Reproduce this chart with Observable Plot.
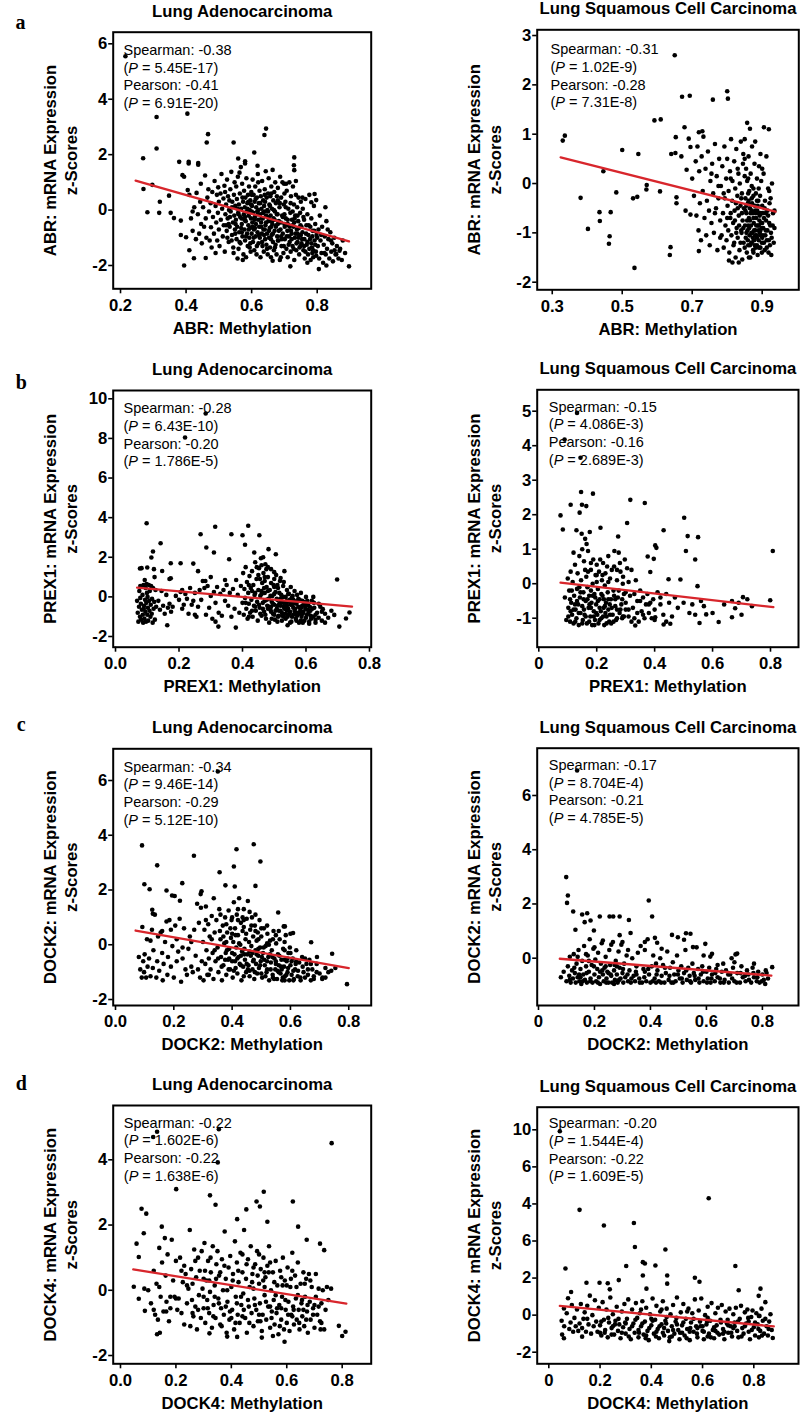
<!DOCTYPE html>
<html>
<head>
<meta charset="utf-8">
<script src="https://cdn.jsdelivr.net/npm/d3@7"></script>
<script src="https://cdn.jsdelivr.net/npm/@observablehq/plot@0.6"></script>
<style>
  html, body { margin: 0; padding: 0; background: #fff; }
  #fig { position: relative; width: 800px; height: 1415px; background: #fff; overflow: hidden; }
  #fig svg { position: absolute; }
</style>
</head>
<body>
<div id="fig"></div>
<script>
// ---------------- DATA ----------------
const titles = ["Lung Adenocarcinoma", "Lung Squamous Cell Carcinoma"];
const panelLetters = ["a", "b", "c", "d"];
const genes = ["ABR", "PREX1", "DOCK2", "DOCK4"];

// Panel a (ABR)
const luadABR = [[0.215,5.55],[0.31,3.36],[0.404,3.48],[0.31,2.22],[0.269,1.87],[0.27,0.76],[0.297,0.91],[0.282,-0.08],[0.318,-0.1],[0.32,0.3],[0.348,0.52],[0.353,-0.1],[0.363,-0.29],[0.384,-0.38],[0.384,-0.9],[0.40,-0.98],[0.394,-2.0],[0.424,-1.74],[0.46,-1.73],[0.467,2.74],[0.463,2.44],[0.545,2.44],[0.644,2.94],[0.639,2.71],[0.608,2.08],[0.73,1.9],[0.729,1.62],[0.73,1.44],[0.559,1.86],[0.379,1.74],[0.408,1.74],[0.408,1.68],[0.437,1.7],[0.437,1.64],[0.58,1.68],[0.58,1.76],[0.618,1.6],[0.389,1.26],[0.394,1.2],[0.897,-2.03],[0.805,-2.13],[0.828,-2.0],[0.718,-2.03],[0.664,-1.83],[0.689,-1.7],[0.792,0.58],[0.797,0.36],[0.782,0.28],[0.868,-1.47],[0.858,-1.59],
[0.405,0.72],[0.41,0.55],[0.415,-0.3],[0.42,-0.75],[0.425,0.1],[0.43,-1.05],[0.432,0.62],[0.436,-0.15],[0.44,-0.85],[0.443,0.3],[0.446,-0.5],[0.448,-1.2],[0.41,-1.45],[0.42,-0.05],[0.445,0.95],
[0.452,0.1],[0.455,-0.6],[0.458,1.25],[0.46,-0.3],[0.462,-1.0],[0.465,0.45],[0.468,0.75],[0.47,-0.05],[0.472,-1.1],[0.475,0.25],[0.476,-0.62],[0.478,-1.35],[0.48,0.65],[0.482,-0.25],[0.485,-0.85],[0.487,1.05],[0.49,0.15],[0.49,-1.55],[0.492,-0.45],[0.494,0.55],[0.495,-1.1],[0.497,-0.1],[0.498,0.82],[0.5,-0.7],[0.5,0.3],
[0.502,-1.3],[0.505,0.6],[0.506,-0.35],[0.508,1.3],[0.51,0.05],[0.512,-0.95],[0.514,0.42],[0.515,-0.55],[0.517,0.88],[0.518,-1.5],[0.52,-0.15],[0.522,0.2],[0.524,-0.75],[0.525,1.1],[0.527,-0.3],[0.528,0.5],[0.53,-1.15],[0.531,0.0],[0.533,-0.6],[0.535,0.75],[0.536,-0.05],[0.538,1.38],[0.54,-0.9],[0.541,0.3],[0.543,-0.45],[0.544,-1.35],[0.546,0.55],[0.547,-0.2],[0.548,1.0],[0.549,-0.7],[0.55,0.15],[0.545,-1.55],[0.532,0.35],[0.526,-1.0],[0.519,0.65],
[0.552,-0.35],[0.553,0.85],[0.554,-1.05],[0.555,0.4],[0.556,-0.6],[0.558,1.2],[0.559,-0.1],[0.56,-1.4],[0.561,0.2],[0.562,-0.8],[0.564,0.6],[0.565,-0.25],[0.566,-1.2],[0.567,1.55],[0.568,0.05],[0.57,-0.5],[0.571,0.95],[0.572,-0.95],[0.574,0.3],[0.575,-1.6],[0.576,-0.15],[0.577,0.7],[0.578,-0.7],[0.579,0.1],[0.58,-1.1],[0.581,0.45],[0.582,-0.4],[0.584,1.15],[0.585,-0.05],[0.586,-0.85],[0.587,0.25],[0.588,-1.3],[0.589,0.55],[0.59,-0.55],[0.591,-0.2],[0.592,0.85],[0.593,-1.0],[0.594,0.0],[0.595,-0.65],[0.596,0.35],[0.597,-1.5],[0.598,-0.3],[0.599,0.65],[0.6,-0.85],[0.557,-1.75],[0.573,-1.8],[0.563,1.35],[0.583,-1.7],[0.569,-0.3],[0.596,-1.2],
[0.601,0.15],[0.602,-0.45],[0.603,1.1],[0.604,-1.15],[0.605,-0.1],[0.606,0.55],[0.607,-0.7],[0.608,-1.45],[0.609,0.3],[0.61,-0.25],[0.611,0.85],[0.612,-0.95],[0.613,-0.5],[0.614,0.1],[0.615,-1.6],[0.616,0.45],[0.617,-0.05],[0.618,-0.8],[0.619,1.3],[0.62,-0.35],[0.621,-1.2],[0.622,0.25],[0.623,-0.6],[0.624,0.7],[0.625,-1.0],[0.626,-0.15],[0.627,-1.7],[0.628,0.5],[0.629,-0.45],[0.63,0.05],[0.631,-0.85],[0.632,1.05],[0.633,-1.3],[0.634,-0.3],[0.635,0.35],[0.636,-0.7],[0.637,-1.5],[0.638,0.15],[0.639,-0.05],[0.64,0.75],[0.641,-1.05],[0.642,-0.55],[0.643,1.4],[0.644,-0.2],[0.645,-1.25],[0.646,0.45],[0.647,-0.85],[0.648,0.0],[0.649,-1.6],[0.65,0.6],
[0.651,-0.4],[0.652,1.15],[0.653,-1.0],[0.654,0.2],[0.655,-0.65],[0.656,-1.35],[0.657,0.5],[0.658,-0.2],[0.659,-1.7],[0.66,0.85],[0.661,-0.9],[0.662,0.05],[0.663,-0.5],[0.664,1.45],[0.665,-1.15],[0.666,0.35],[0.667,-0.3],[0.668,-1.45],[0.669,0.65],[0.67,-0.75],[0.671,-0.05],[0.672,1.0],[0.673,-1.25],[0.674,0.25],[0.675,-0.55],[0.676,-1.6],[0.677,0.5],[0.678,-0.95],[0.679,-0.15],[0.68,0.8],[0.682,-1.1],[0.683,-0.4],[0.685,0.1],[0.686,-1.8],[0.688,-0.7],[0.69,0.45],[0.691,-1.3],[0.693,-0.2],[0.694,1.0],[0.695,-0.85],[0.697,-1.55],[0.698,0.2],[0.7,-0.5],[0.699,0.95],[0.687,1.2],
[0.701,-1.05],[0.703,0.3],[0.704,-0.3],[0.706,-1.4],[0.707,0.7],[0.709,-0.75],[0.71,-1.7],[0.712,0.05],[0.713,-0.55],[0.715,1.0],[0.716,-1.15],[0.718,-0.1],[0.719,-1.5],[0.72,0.5],[0.722,-0.85],[0.723,-0.35],[0.725,-1.3],[0.726,0.85],[0.728,-0.6],[0.729,0.2],[0.73,-1.8],[0.732,-1.0],[0.733,-0.2],[0.735,0.55],[0.736,-1.45],[0.738,-0.7],[0.739,0.1],[0.74,-1.15],[0.742,-0.4],[0.743,0.45],[0.745,-1.6],[0.746,-0.9],[0.748,-0.1],[0.749,-1.3],[0.75,0.3],[0.735,1.05],[0.725,-0.05],[0.705,0.95],[0.744,-0.65],[0.714,-0.95],
[0.752,-0.6],[0.754,-1.05],[0.756,0.05],[0.758,-1.45],[0.76,-0.35],[0.762,-1.75],[0.764,0.4],[0.766,-0.85],[0.768,-1.25],[0.77,-0.15],[0.772,-1.6],[0.774,-0.55],[0.776,0.55],[0.778,-1.05],[0.78,-1.8],[0.782,-0.3],[0.784,-1.35],[0.786,-0.75],[0.788,-1.7],[0.79,0.15],[0.792,-1.1],[0.794,-0.5],[0.796,-1.5],[0.798,-0.9],[0.77,-1.9],[0.76,-1.3],[0.785,-1.55],[0.755,0.45],
[0.802,-1.3],[0.804,-0.7],[0.806,-1.75],[0.808,-0.2],[0.81,-1.1],[0.813,-1.55],[0.815,-0.6],[0.818,-1.9],[0.82,-1.25],[0.823,-0.95],[0.826,-1.6],[0.828,-0.4],[0.83,-1.4],[0.834,-1.05],[0.837,-1.75],[0.84,-0.8],[0.843,-1.5],[0.846,-1.2],[0.848,-1.85],[0.825,0.1],
[0.852,-1.0],[0.856,-1.6],[0.86,-1.3],[0.865,-1.75],[0.87,-1.4],[0.878,-1.1],[0.885,-1.55],[0.875,-1.8]];
const luadABRcore = [[0.522,-0.55],[0.534,-0.25],[0.539,-1.1],[0.551,-0.5],[0.557,0.05],[0.563,-1.15],[0.568,-0.65],[0.572,0.45],[0.578,-0.35],[0.583,-0.95],[0.587,0.05],[0.591,-0.7],[0.594,-1.35],[0.598,0.2],[0.603,-0.6],[0.606,-1.0],[0.609,-0.35],[0.612,0.4],[0.616,-1.3],[0.619,-0.15],[0.622,-0.9],[0.626,0.25],[0.629,-0.6],[0.632,-1.15],[0.635,-0.1],[0.638,-0.9],[0.641,0.3],[0.644,-0.45],[0.647,-1.4],[0.65,-0.25],[0.653,-0.75],[0.656,0.15],[0.659,-1.05],[0.662,-0.4],[0.665,-0.85],[0.668,0.0],[0.671,-1.35],[0.674,-0.6],[0.677,-0.15],[0.68,-1.1],[0.683,-0.75],[0.686,0.25],[0.689,-0.45],[0.692,-1.05],[0.695,-0.25],[0.698,-1.3],[0.701,-0.6],[0.704,0.1],[0.707,-0.95],[0.71,-0.35],[0.713,-1.25],[0.716,-0.6],[0.719,0.25],[0.722,-1.05],[0.725,-0.55],[0.728,-1.4],[0.731,-0.3],[0.734,-0.85],[0.737,-1.2],[0.74,-0.2],[0.743,-1.0],[0.746,-1.35],[0.749,-0.55],[0.752,-1.2],[0.755,-0.8],[0.758,-0.25],[0.761,-1.05],[0.764,-1.5],[0.767,-0.55],[0.77,-1.15],[0.773,-0.9],[0.776,-1.4],[0.779,-0.6],[0.782,-1.2],[0.785,-0.95],[0.788,-1.45],[0.791,-0.75],[0.794,-1.25],[0.797,-1.65],[0.8,-1.0],[0.812,-0.9],[0.822,-1.55],[0.832,-0.7],[0.842,-1.1],[0.853,-1.45],[0.59,0.3],[0.6,-0.05],[0.61,-0.65],[0.62,0.0],[0.63,-0.3],[0.64,-0.7],[0.65,-0.05],[0.66,-0.6],[0.67,-0.35],[0.68,-0.5],[0.69,-0.95],[0.7,-0.15],[0.71,-0.5],[0.72,-0.75],[0.73,-0.45],[0.74,-0.85],[0.75,-0.9],[0.57,-0.8],[0.58,-0.25],[0.56,-0.15],[0.55,-0.85],[0.54,0.1],[0.53,-0.5],[0.64,0.55],[0.66,0.6],[0.62,1.0],[0.68,0.35],[0.7,0.6],[0.6,0.55]];
const luscABR = [[0.33,0.87],[0.336,0.97],[0.381,-0.29],[0.402,-0.92],[0.435,-0.58],[0.436,-0.76],[0.446,0.25],[0.467,-0.58],[0.464,-1.07],[0.462,-1.22],[0.483,-0.18],[0.5,0.68],[0.546,0.6],[0.531,-0.3],[0.543,-0.27],[0.535,-1.71],[0.57,-0.03],[0.569,-0.12],[0.608,-0.16],[0.592,1.28],[0.61,1.3],[0.65,2.6],[0.638,-1.29],[0.636,-1.45],[0.64,0.6],[0.652,0.62],[0.653,0.94],[0.655,-0.28],[0.655,-0.4],[0.671,1.76],[0.693,1.78],[0.678,1.14],[0.684,0.28],[0.669,0.55],[0.69,0.91],[0.695,0.74],[0.681,-0.55],[0.695,-0.63],[0.719,1.04],[0.729,1.06],[0.759,1.7],[0.8,1.87],[0.802,1.72],[0.719,-1.37],[0.805,-1.56],[0.833,-1.6],[0.843,-1.54],[0.862,-1.5],
[0.70,0.1],[0.705,-0.25],[0.71,0.45],[0.712,-0.65],[0.715,0.75],[0.718,-0.95],[0.72,0.25],[0.722,-0.4],[0.725,-1.15],[0.727,0.55],[0.73,-0.15],[0.732,0.95],[0.735,-0.7],[0.738,0.3],[0.74,-1.05],[0.742,-0.35],[0.745,0.65],[0.748,-0.55],[0.75,-1.25],[0.752,0.05],[0.755,-0.8],[0.757,0.4],[0.76,-0.2],[0.762,-1.0],[0.765,0.8],[0.768,-0.5],[0.77,0.15],[0.772,-1.35],[0.775,-0.3],[0.777,0.5],[0.78,-0.75],
[0.782,-0.05],[0.784,-1.05],[0.786,0.35],[0.788,-0.6],[0.79,-1.3],[0.792,0.75],[0.793,-0.3],[0.795,-0.85],[0.797,0.1],[0.798,-1.15],[0.8,0.5],[0.801,-0.45],[0.803,-0.95],[0.804,-0.15],[0.806,-1.4],[0.808,0.25],[0.809,-0.7],[0.811,0.9],[0.812,-1.05],[0.814,-0.35],[0.815,0.05],[0.817,-0.8],[0.818,-1.25],[0.82,0.45],[0.821,-0.55],[0.823,-0.1],[0.824,-1.5],[0.826,0.7],[0.827,-0.9],[0.829,-0.25],[0.83,-1.1],[0.832,0.2],[0.833,-0.65],[0.835,-1.35],[0.836,0.0],[0.838,-0.45],[0.839,0.85],[0.841,-1.0],[0.842,-0.2],[0.844,-0.75],[0.845,0.4],[0.847,-1.2],[0.848,-0.5],[0.85,0.15],[0.79,-0.2],[0.81,-0.6],[0.825,-0.4],[0.84,-0.95],[0.815,-1.6],[0.846,0.6],
[0.851,-0.85],[0.852,-0.3],[0.853,-1.1],[0.854,0.3],[0.855,-0.6],[0.856,-1.4],[0.857,0.05],[0.858,-0.95],[0.859,-0.4],[0.86,-1.25],[0.861,0.55],[0.862,-0.7],[0.863,-0.15],[0.864,-1.05],[0.865,-0.5],[0.866,-1.5],[0.867,0.2],[0.868,-0.85],[0.869,-1.2],[0.87,-0.3],[0.871,0.75],[0.872,-1.0],[0.873,-0.6],[0.874,-1.35],[0.875,-0.1],[0.876,-0.8],[0.877,-1.15],[0.878,0.4],[0.879,-0.45],[0.88,-0.95],[0.881,-1.3],[0.882,-0.2],[0.883,-0.7],[0.884,-1.05],[0.885,0.1],[0.886,-0.55],[0.887,-1.45],[0.888,-0.85],[0.889,-0.35],[0.89,-1.15],[0.891,0.35],[0.892,-0.75],[0.893,-1.0],[0.894,-0.25],[0.895,-1.3],[0.896,-0.6],[0.897,0.05],[0.898,-0.9],[0.899,-1.2],[0.9,-0.45],[0.902,-1.05],[0.904,0.2],[0.905,-0.7],[0.907,-1.35],[0.908,-0.35],[0.91,-0.95],[0.912,0.55],[0.913,-1.15],[0.915,-0.55],[0.917,-0.1],[0.918,-1.4],[0.92,-0.8],[0.922,-1.25],[0.924,-0.3],[0.926,-1.45],[0.928,0.0],[0.93,-0.85],[0.933,-1.2],[0.935,-0.55],[0.925,-1.0],[0.87,-0.05],[0.88,-0.55],[0.86,-0.2],[0.89,-0.6],[0.9,-0.8],[0.875,-1.4],[0.885,-1.25],[0.895,-0.95],[0.865,-0.75],[0.855,-0.45],[0.905,1.14],[0.919,1.1],[0.857,1.23],[0.865,1.11],[0.88,0.85],[0.895,0.6],[0.85,0.9]];
const luscABRcore = [[0.822,-0.75],[0.826,-1.0],[0.83,-0.5],[0.834,-0.85],[0.838,-1.2],[0.842,-0.6],[0.846,-0.9],[0.85,-1.3],[0.852,-0.55],[0.855,-1.0],[0.857,-0.75],[0.859,-1.15],[0.861,-0.35],[0.863,-0.9],[0.865,-1.25],[0.867,-0.6],[0.869,-1.0],[0.871,-0.4],[0.873,-1.1],[0.875,-0.7],[0.877,-0.95],[0.879,-1.25],[0.881,-0.6],[0.883,-0.85],[0.885,-1.1],[0.887,-0.45],[0.889,-0.95],[0.891,-1.3],[0.893,-0.65],[0.895,-1.05],[0.897,-0.8],[0.899,-1.4],[0.901,-0.6],[0.903,-0.9],[0.905,-1.2],[0.907,-0.5],[0.909,-1.05],[0.911,-0.75],[0.913,-1.3],[0.915,-0.95],[0.917,-0.65],[0.919,-1.15],[0.921,-0.4],[0.923,-0.85],[0.927,-1.1],[0.931,-0.6],[0.86,-0.85],[0.87,-1.2],[0.88,-1.05],[0.89,-0.85],[0.9,-1.1],[0.91,-0.6],[0.87,-0.55],[0.885,-0.35],[0.875,-0.25],[0.86,0.1],[0.89,-0.1],[0.84,-0.3],[0.82,-1.2],[0.8,-0.7],[0.78,-1.1],[0.775,-0.05],[0.765,-0.6],[0.755,0.2],[0.81,0.1],[0.83,0.3],[0.85,0.5],[0.9,0.3],[0.92,-0.15],[0.935,-0.9]];

// Panel b (PREX1)
const luadPREX1 = [[0.284,9.26],[0.219,8.05],[0.098,3.72],[0.142,2.71],[0.118,2.29],[0.113,1.99],[0.174,1.7],[0.205,1.7],[0.245,1.68],[0.268,3.16],[0.314,3.54],[0.286,2.49],[0.31,2.24],[0.365,3.16],[0.358,1.9],[0.4,3.11],[0.418,3.59],[0.408,2.63],[0.453,3.11],[0.437,2.24],[0.482,2.41],[0.505,2.15],[0.698,0.88],[0.163,-1.43],[0.324,-1.5],[0.379,-1.55],[0.705,-1.5],[0.542,-1.43],[0.147,1.31],[0.174,0.94],[0.077,1.43],[0.1,1.48],[0.121,1.4],[0.737,-0.79],[0.726,-1.09],[0.689,-0.91],[0.623,0.0],[0.653,-0.62],
[0.068,-0.2],[0.07,-0.8],[0.072,-1.25],[0.074,-0.5],[0.075,0.3],[0.077,-1.0],[0.078,0.55],[0.08,-0.35],[0.081,-1.15],[0.082,1.45],[0.083,-0.65],[0.085,0.1],[0.086,-0.9],[0.087,-1.3],[0.088,0.6],[0.09,-0.45],[0.091,-1.1],[0.092,0.85],[0.093,-0.15],[0.094,-0.75],[0.095,0.45],[0.096,-1.25],[0.097,-0.3],[0.098,0.65],[0.1,-0.9],[0.101,0.0],[0.102,-0.55],[0.103,-1.2],[0.105,0.6],[0.106,-0.2],[0.107,-0.7],[0.108,0.3],[0.11,-1.0],[0.111,-0.4],[0.112,0.55],[0.114,-0.85],[0.115,-0.1],[0.117,-1.3],[0.118,0.45],[0.12,-0.6],[0.122,-0.25],[0.124,-1.15],[0.126,0.35],[0.128,-0.5],[0.123,1.0],[0.078,-0.05],[0.089,-0.6],[0.099,0.2],
[0.135,-0.2],[0.14,-0.65],[0.145,0.3],[0.15,-0.45],[0.155,-0.85],[0.16,0.1],[0.165,-0.55],[0.17,-0.35],[0.175,-0.75],[0.18,-0.5],[0.19,0.05],[0.2,-0.15],[0.205,0.25],[0.21,-0.6],[0.215,-0.4],[0.22,0.15],[0.225,-0.1],[0.23,-0.85],[0.235,0.45],[0.24,-0.4],[0.245,-0.2],[0.25,0.2],[0.255,-1.0],[0.26,-0.5],[0.265,0.35],[0.27,-0.15],[0.275,0.8],[0.28,0.45],[0.285,-0.9],[0.29,0.55],[0.295,-0.55],[0.3,0.05],[0.305,-1.1],[0.31,0.25],[0.315,-0.3],[0.32,0.5],[0.325,-0.8],[0.33,0.15],[0.335,-0.95],[0.34,0.35],[0.345,-0.2],[0.35,0.6],[0.355,-0.45],[0.36,0.2],[0.365,-1.0],[0.37,0.4],[0.375,-0.6],[0.38,0.85],[0.385,0.1],[0.39,-0.8],[0.395,0.55],[0.283,0.8],[0.3,1.0],[0.26,1.3],[0.315,-1.25],[0.345,0.85],[0.21,0.35],[0.17,0.9],[0.25,-0.9],
[0.40,-0.3],[0.402,1.2],[0.404,-0.9],[0.406,0.4],[0.408,-0.05],[0.41,1.5],[0.412,-0.6],[0.414,0.75],[0.416,-1.1],[0.418,0.2],[0.42,-0.35],[0.422,1.05],[0.424,-0.8],[0.426,0.45],[0.428,-0.15],[0.43,1.3],[0.432,-1.0],[0.434,0.6],[0.436,-0.45],[0.438,0.1],[0.44,1.75],[0.442,-0.7],[0.444,0.9],[0.446,-0.25],[0.448,-1.2],[0.45,0.35],[0.452,1.45],[0.454,-0.55],[0.456,0.05],[0.458,1.95],[0.46,-0.95],[0.462,0.7],[0.464,-0.3],[0.466,1.2],[0.468,-0.75],[0.47,0.2],[0.472,1.65],[0.474,-1.1],[0.476,0.5],[0.478,-0.45],[0.48,1.0],[0.482,-0.1],[0.484,-1.3],[0.486,0.35],[0.488,-0.65],[0.49,1.4],[0.492,-0.25],[0.494,0.05],[0.496,-0.85],[0.498,0.6],[0.5,-0.4],[0.502,-1.15],[0.504,0.25],[0.506,1.1],[0.508,-0.6],[0.51,-0.15],[0.512,0.45],[0.514,-0.95],[0.516,-0.35],[0.518,0.8],[0.52,-0.7],[0.522,0.1],[0.524,-1.2],[0.526,-0.25],[0.528,0.55],[0.53,-0.5],[0.532,1.3],[0.534,-0.85],[0.536,0.0],[0.538,-0.35],[0.54,0.35],[0.542,-1.0],[0.544,-0.6],[0.546,0.15],[0.548,-0.15],[0.55,-0.75],[0.552,0.5],[0.554,-1.25],[0.556,-0.4],[0.558,0.05],[0.56,-0.9],[0.562,-0.2],[0.564,0.3],[0.566,-0.6],[0.568,-1.1],[0.57,-0.35],[0.572,0.1],[0.574,-0.8],[0.576,-0.5],[0.578,-1.3],[0.58,-0.15],[0.582,-0.7],[0.584,0.2],[0.586,-1.0],[0.588,-0.45],[0.59,-0.85],[0.592,-0.25],[0.595,-1.2],[0.598,-0.6],[0.6,0.0],[0.603,-0.9],[0.606,-0.4],[0.61,-1.25],[0.614,-0.7],[0.618,-0.2],[0.622,-1.0],[0.626,-0.55],[0.63,-1.3],[0.635,-0.8],[0.64,-1.05],[0.645,-0.5],[0.65,-1.2],[0.66,-0.85],[0.67,-1.05],[0.68,-0.7],[0.49,-0.5],[0.5,0.15],[0.51,-0.45],[0.52,-0.1],[0.53,-0.3],[0.54,-0.45],[0.55,-0.3],[0.56,-0.55],[0.47,-0.2],[0.48,-0.6],[0.46,0.3],[0.5,-0.9],[0.515,-0.7],[0.525,-0.95],[0.535,-0.6],[0.545,-0.9],[0.555,-0.05],[0.565,-0.85],[0.575,-0.2],[0.585,-0.55],[0.595,-0.3],[0.605,-0.65],[0.615,-0.95],[0.625,-0.3],[0.47,1.0],[0.455,0.9],[0.445,1.5],[0.465,2.0],[0.475,1.4],[0.5,1.25],[0.52,0.95],[0.44,0.2],[0.43,-0.7],[0.42,0.6],[0.41,-0.3]];
const luadPREX1core = [[0.452,-0.4],[0.456,-0.85],[0.46,0.15],[0.464,-0.6],[0.468,0.45],[0.472,-0.9],[0.476,-0.15],[0.48,0.3],[0.484,-0.5],[0.488,0.05],[0.492,-1.1],[0.496,-0.35],[0.5,0.5],[0.504,-0.7],[0.508,-0.1],[0.512,-1.0],[0.516,0.2],[0.52,-0.45],[0.524,-0.8],[0.528,0.0],[0.532,-0.6],[0.536,-1.1],[0.54,-0.2],[0.544,0.15],[0.548,-0.85],[0.552,-0.4],[0.556,-1.0],[0.56,-0.15],[0.564,-0.7],[0.568,-0.3],[0.572,-0.95],[0.576,-0.1],[0.58,-0.55],[0.584,-1.2],[0.588,-0.2],[0.592,-0.75],[0.596,-0.45],[0.6,-1.05],[0.604,-0.2],[0.608,-0.8],[0.612,-0.5],[0.616,-1.1],[0.62,-0.6],[0.63,-0.9],[0.64,-0.35],[0.65,-0.75],[0.47,0.8],[0.48,1.5],[0.49,0.7],[0.46,1.6],[0.45,1.1],[0.5,0.9],[0.51,0.6],[0.53,0.75],[0.44,-0.5],[0.43,0.3],[0.42,-1.0],[0.49,-0.75],[0.51,-1.25],[0.53,-1.0],[0.55,-1.3],[0.57,-1.2],[0.59,-1.3],[0.61,-1.35],[0.63,-1.15],[0.66,-1.3],[0.52,-0.3],[0.54,-0.7],[0.56,-0.35],[0.58,-0.85],[0.6,-0.45],[0.62,-0.25]];
const luscPREX1 = [[0.132,4.95],[0.089,4.18],[0.144,3.65],[0.075,1.98],[0.083,1.57],[0.11,2.29],[0.146,2.66],[0.149,2.29],[0.164,2.25],[0.187,2.61],[0.141,2.06],[0.213,1.62],[0.316,2.43],[0.366,2.34],[0.305,1.76],[0.274,1.37],[0.502,1.91],[0.514,1.38],[0.55,1.35],[0.431,1.55],[0.402,1.11],[0.406,1.04],[0.508,0.95],[0.54,0.7],[0.808,0.95],[0.376,0.79],[0.397,0.72],[0.385,0.34],[0.448,0.13],[0.489,0.12],[0.548,-0.07],[0.705,-0.39],[0.736,-0.65],[0.799,-0.48],[0.667,-0.5],[0.678,-0.71],[0.667,-0.97],[0.621,-1.11],[0.555,-1.14],[0.578,-0.89],[0.431,-1.18],[0.454,-1.16],[0.402,-0.97],[0.333,-1.21],
[0.09,-0.4],[0.095,-1.05],[0.1,0.15],[0.102,-0.7],[0.105,-0.2],[0.108,-1.1],[0.11,0.35],[0.112,-0.55],[0.115,-0.9],[0.117,0.05],[0.12,-1.15],[0.122,-0.35],[0.125,0.55],[0.127,-0.75],[0.13,-1.0],[0.132,-0.15],[0.134,0.3],[0.136,-0.6],[0.138,-1.2],[0.14,0.8],[0.142,-0.4],[0.144,-0.85],[0.146,0.1],[0.148,1.45],[0.15,-0.65],[0.152,-1.05],[0.154,-0.25],[0.156,0.65],[0.158,-0.9],[0.16,1.3],[0.162,-0.5],[0.164,0.2],[0.166,-1.15],[0.168,-0.1],[0.17,0.95],[0.172,-0.7],[0.174,-0.35],[0.176,1.5],[0.178,-0.95],[0.18,0.4],[0.182,-0.55],[0.184,-1.2],[0.186,0.0],[0.188,0.7],[0.19,-0.8],[0.192,-0.3],[0.194,-1.05],[0.196,0.25],[0.198,-0.6],[0.2,0.55],[0.202,-0.9],[0.204,-0.15],[0.206,-1.15],[0.208,0.35],[0.21,-0.45],[0.212,0.7],[0.214,-0.8],[0.216,-1.0],[0.218,0.1],[0.22,-0.35],[0.222,0.6],[0.224,-0.7],[0.226,-1.2],[0.228,-0.05],[0.23,0.3],[0.232,-0.55],[0.234,-0.95],[0.236,0.5],[0.238,-0.25],[0.24,-0.75],[0.243,-1.1],[0.246,0.15],[0.249,-0.45],[0.252,0.4],[0.255,-0.9],[0.258,-0.2],[0.261,0.95],[0.264,-0.65],[0.267,-1.05],[0.27,0.1],[0.273,-0.4],[0.276,0.9],[0.279,-0.85],[0.282,0.35],[0.285,-0.6],[0.288,-1.0],[0.291,0.2],[0.294,-0.3],[0.297,0.7],[0.3,-0.75],[0.305,0.45],[0.31,-0.95],[0.315,-0.35],[0.32,0.4],[0.325,-0.7],[0.33,-1.0],[0.335,0.1],[0.34,-0.5],[0.345,-1.1],[0.35,-0.2],[0.355,-0.8],[0.36,-0.4],[0.365,-1.0],[0.37,-0.6],[0.375,-0.3],[0.38,-0.85],[0.385,-0.55],[0.39,-1.0],[0.395,-0.45],[0.4,-0.75],[0.41,-0.25],[0.42,-0.6],[0.43,-0.9],[0.44,-0.3],[0.45,-0.55],[0.46,-0.95],[0.47,-0.4],[0.48,-0.7],[0.5,-0.55],[0.52,-0.85],[0.53,-0.6],[0.54,-0.9],[0.56,-0.5],[0.57,-0.65],[0.6,-0.85],[0.64,-0.6],[0.69,-0.55],[0.7,-0.9],[0.72,-0.45],[0.12,0.9],[0.13,1.55],[0.15,1.0],[0.165,1.15],[0.155,-0.45],[0.175,-0.6],[0.195,-0.4],[0.21,-0.7],[0.225,-0.45],[0.245,-0.6],[0.26,-0.35],[0.18,-0.2],[0.14,-0.1],[0.125,-0.6],[0.11,-0.8],[0.19,-0.95],[0.23,-0.85],[0.25,-1.15],[0.27,-0.75],[0.3,-0.25],[0.29,-0.95],[0.31,0.05],[0.28,0.6],[0.26,0.5],[0.24,0.8],[0.22,0.25],[0.2,0.05],[0.17,0.35]];
const luscPREX1core = [[0.102,-0.95],[0.108,-0.45],[0.114,-0.2],[0.12,-0.75],[0.126,-1.1],[0.132,-0.5],[0.138,-0.85],[0.144,-0.25],[0.15,-1.15],[0.156,-0.75],[0.162,-0.95],[0.168,-0.45],[0.174,-1.1],[0.18,-0.7],[0.186,-0.35],[0.192,-1.2],[0.198,-0.85],[0.204,-0.5],[0.21,-1.05],[0.216,-0.3],[0.222,-0.95],[0.228,-0.65],[0.234,-1.15],[0.24,-0.45],[0.246,-0.9],[0.252,-0.7],[0.258,-1.1],[0.264,-0.45],[0.27,-1.0],[0.276,-0.2],[0.282,-0.75],[0.288,-0.45],[0.294,-0.95],[0.3,-0.55],[0.31,-0.75],[0.32,-1.1],[0.33,-0.3],[0.34,-0.85],[0.35,-0.5],[0.36,-0.9],[0.38,-0.6],[0.4,-1.05],[0.42,-0.4],[0.44,-1.1],[0.2,0.25],[0.18,0.6],[0.16,0.4],[0.24,0.05],[0.27,0.4],[0.29,0.0]];

// Panel c (DOCK2)
const luadDOCK2 = [[0.351,6.33],[0.091,3.63],[0.143,2.9],[0.269,3.25],[0.357,2.65],[0.415,3.49],[0.406,2.86],[0.474,3.67],[0.497,3.04],[0.099,2.21],[0.117,2.03],[0.229,2.25],[0.175,1.98],[0.194,1.8],[0.203,1.78],[0.377,2.17],[0.409,2.13],[0.48,2.15],[0.295,1.95],[0.292,1.85],[0.337,1.7],[0.221,1.61],[0.126,1.28],[0.128,1.13],[0.558,1.18],[0.577,0.67],[0.581,0.67],[0.609,0.43],[0.671,0.09],[0.743,-0.33],[0.794,-1.44],[0.691,-0.45],[0.754,-0.85],[0.709,-1.25],
[0.08,-0.45],[0.085,-0.9],[0.09,-1.2],[0.092,0.65],[0.095,-0.6],[0.098,-1.0],[0.1,-0.35],[0.105,-1.2],[0.108,0.2],[0.11,-0.8],[0.115,-0.5],[0.12,-1.15],[0.125,0.55],[0.128,-0.85],[0.13,-0.2],[0.135,1.1],[0.14,-1.2],[0.143,-0.6],[0.146,0.3],[0.15,-0.95],[0.155,0.45],[0.16,-0.3],[0.162,-1.3],[0.165,-0.7],[0.17,0.1],[0.175,0.85],[0.178,-1.1],[0.18,-0.45],[0.185,0.9],[0.19,-0.8],[0.195,-0.05],[0.2,-1.2],[0.205,0.7],[0.21,-0.6],[0.215,-0.25],[0.22,0.95],[0.225,-1.35],[0.23,-0.5],[0.235,0.6],[0.24,-0.9],[0.245,-1.1],[0.25,-0.15],[0.255,0.3],[0.26,-0.8],[0.265,-1.0],[0.27,0.55],[0.275,-0.4],[0.28,1.5],[0.283,-0.9],[0.286,0.8],[0.29,-1.2],[0.293,1.35],[0.296,-0.6],[0.3,0.1],[0.21,0.2],[0.16,0.5],[0.23,-0.1],[0.26,0.1],[0.19,0.55],[0.12,0.15],
[0.302,-1.3],[0.305,0.55],[0.308,-0.7],[0.31,1.4],[0.312,-0.2],[0.315,-1.1],[0.318,0.75],[0.32,-0.5],[0.323,0.3],[0.326,-0.9],[0.33,1.05],[0.333,-0.3],[0.336,-1.25],[0.34,0.45],[0.343,-0.6],[0.346,0.9],[0.35,-0.1],[0.353,-1.0],[0.356,1.3],[0.36,0.2],[0.362,-0.45],[0.365,-1.3],[0.368,0.7],[0.37,-0.75],[0.373,0.05],[0.376,1.0],[0.378,-0.3],[0.38,-1.1],[0.383,0.45],[0.386,-0.55],[0.388,1.25],[0.39,-0.15],[0.393,-0.9],[0.396,0.25],[0.398,0.9],[0.4,-0.6],[0.402,-1.2],[0.404,0.1],[0.406,1.55],[0.408,-0.35],[0.41,0.6],[0.412,-0.85],[0.414,-0.1],[0.416,1.1],[0.418,-1.05],[0.42,0.35],[0.422,-0.45],[0.424,1.7],[0.426,-0.7],[0.428,0.0],[0.43,0.8],[0.432,-1.3],[0.434,-0.25],[0.436,0.5],[0.438,-0.8],[0.44,1.3],[0.442,-0.15],[0.444,-0.55],[0.446,0.2],[0.448,-1.0],[0.45,0.95],[0.452,-0.35],[0.454,1.6],[0.456,-0.75],[0.458,0.1],[0.46,-1.15],[0.462,0.55],[0.464,-0.4],[0.466,-0.05],[0.468,1.0],[0.47,-0.9],[0.472,0.3],[0.474,-0.55],[0.476,-1.25],[0.478,0.7],[0.48,-0.2],[0.482,-0.7],[0.484,0.15],[0.486,-1.05],[0.488,0.45],[0.49,-0.4],[0.492,-0.85],[0.494,0.9],[0.496,-0.1],[0.498,-0.6],[0.5,0.3],[0.503,-1.2],[0.506,-0.3],[0.509,0.6],[0.512,-0.75],[0.515,-0.05],[0.518,-1.0],[0.521,0.4],[0.524,-0.45],[0.527,-1.3],[0.53,0.15],[0.533,-0.65],[0.536,-0.2],[0.539,-1.1],[0.542,0.5],[0.545,-0.5],[0.548,-0.9],[0.551,0.05],[0.554,-1.25],[0.557,-0.35],[0.56,-0.75],[0.563,0.2],[0.566,-1.05],[0.569,-0.55],[0.572,-1.3],[0.575,-0.15],[0.578,-0.8],[0.581,-1.15],[0.584,0.35],[0.587,-0.6],[0.59,-1.0],[0.593,-0.3],[0.596,-1.3],[0.6,-0.75],[0.604,-1.1],[0.608,-0.5],[0.612,-1.25],[0.616,-0.9],[0.62,-0.2],[0.625,-1.15],[0.63,-0.65],[0.635,-1.3],[0.64,-0.45],[0.645,-1.0],[0.65,-1.2],[0.655,-0.7],[0.66,-1.1],[0.665,-0.55],[0.67,-1.3],[0.675,-0.9],[0.68,-1.15],[0.69,-0.7],[0.7,-1.05],[0.71,-1.2],[0.72,-0.85],[0.73,-1.0],[0.45,-0.7],[0.47,-0.3],[0.49,-0.15],[0.51,-0.55],[0.53,-0.35],[0.55,-0.7],[0.57,-0.9],[0.59,-0.5],[0.61,-0.95],[0.43,-0.4],[0.41,-0.6],[0.39,-0.5],[0.44,-1.15],[0.46,-0.95],[0.5,-1.05],[0.52,-0.9],[0.54,-1.2],[0.56,-1.0],[0.58,-1.3],[0.6,-0.3],[0.62,-0.6],[0.48,0.5],[0.44,0.65],[0.42,0.9],[0.4,0.4],[0.38,0.1],[0.52,0.05],[0.55,0.35],[0.58,-0.2],[0.6,0.4]];
const luadDOCK2core = [[0.352,-0.5],[0.358,0.5],[0.364,-0.8],[0.37,0.3],[0.376,-0.55],[0.382,-0.2],[0.388,-0.9],[0.394,0.6],[0.4,-0.3],[0.406,-0.95],[0.412,0.35],[0.418,-0.5],[0.424,0.05],[0.43,-0.75],[0.436,1.0],[0.442,-0.35],[0.448,0.4],[0.454,-0.9],[0.46,-0.25],[0.466,0.7],[0.472,-0.6],[0.478,-1.0],[0.484,-0.35],[0.49,0.2],[0.496,-0.75],[0.502,-0.45],[0.508,-0.1],[0.514,-1.15],[0.52,-0.6],[0.526,0.0],[0.532,-0.9],[0.538,-0.45],[0.544,-1.25],[0.55,-0.6],[0.556,-0.95],[0.562,-0.4],[0.568,-0.8],[0.574,-1.2],[0.58,-0.55],[0.586,-1.1],[0.592,-0.85],[0.598,-0.1],[0.604,-0.6],[0.61,-1.3],[0.618,-0.7],[0.626,-0.95],[0.634,-1.2],[0.642,-0.8],[0.65,-0.5],[0.66,-0.9],[0.67,-0.7],[0.68,-1.25],[0.69,-1.0],[0.72,-1.2],[0.74,-0.95],[0.42,1.3],[0.44,0.9],[0.46,1.2],[0.48,1.1],[0.5,0.6],[0.52,0.7],[0.54,0.2],[0.56,0.5],[0.58,0.1],[0.4,1.0],[0.38,0.75],[0.36,1.1],[0.34,-0.2],[0.33,0.2],[0.32,-1.1],[0.31,0.9]];
const luscDOCK2 = [[0.138,6.92],[0.099,2.99],[0.105,2.31],[0.102,2.04],[0.124,1.72],[0.394,2.13],[0.406,1.54],[0.219,1.54],[0.156,1.61],[0.174,1.66],[0.165,1.33],[0.186,1.39],[0.254,1.54],[0.267,1.54],[0.29,1.54],[0.323,1.41],[0.329,0.93],[0.198,1.02],[0.132,1.05],[0.527,0.92],[0.543,0.9],[0.477,0.86],[0.498,0.77],[0.52,0.68],[0.596,0.53],[0.552,0.41],[0.424,0.57],[0.416,0.75],[0.835,-0.33],[0.704,0.14],[0.71,0.17],[0.62,0.16],[0.614,0.06],
[0.08,-0.7],[0.09,-0.5],[0.1,-0.85],[0.105,-0.3],[0.11,-0.65],[0.112,0.05],[0.115,-0.9],[0.12,-0.45],[0.123,-0.75],[0.126,0.15],[0.13,-0.55],[0.133,-0.9],[0.136,-0.2],[0.14,-0.7],[0.143,0.3],[0.146,-0.85],[0.15,-0.4],[0.153,-0.95],[0.156,-0.1],[0.16,-0.6],[0.163,0.45],[0.166,-0.8],[0.17,-0.3],[0.173,-0.9],[0.176,0.1],[0.18,-0.5],[0.183,0.7],[0.186,-0.75],[0.19,-0.25],[0.193,-0.9],[0.196,0.35],[0.2,-0.6],[0.203,-0.05],[0.206,-0.85],[0.21,-0.4],[0.213,0.2],[0.216,-0.7],[0.22,-0.95],[0.223,-0.2],[0.226,0.55],[0.23,-0.6],[0.233,-0.85],[0.236,-0.35],[0.24,0.05],[0.243,-0.75],[0.246,-0.5],[0.25,-0.9],[0.253,0.3],[0.256,-0.25],[0.26,-0.65],[0.263,-0.9],[0.266,0.6],[0.27,-0.45],[0.273,-0.8],[0.276,-0.1],[0.28,-0.6],[0.283,-0.9],[0.286,0.25],[0.29,-0.35],[0.293,-0.75],[0.296,0.5],[0.3,-0.55],[0.303,-0.9],[0.306,-0.2],[0.31,-0.7],[0.315,0.1],[0.32,-0.85],[0.325,-0.45],[0.33,-0.9],[0.335,0.0],[0.34,-0.65],[0.345,-0.85],[0.35,-0.3],[0.355,0.2],[0.36,-0.75],[0.365,0.45],[0.37,-0.9],[0.375,-0.4],[0.38,0.3],[0.385,-0.85],[0.39,0.7],[0.395,-0.6],[0.4,-0.9],[0.405,-0.3],[0.41,0.1],[0.415,-0.75],[0.42,-0.9],[0.425,-0.45],[0.43,-0.85],[0.435,0.0],[0.44,-0.65],[0.445,-0.25],[0.45,-0.9],[0.455,-0.55],[0.46,0.25],[0.465,-0.8],[0.47,-0.35],[0.475,-0.9],[0.48,-0.15],[0.485,-0.6],[0.49,-0.85],[0.495,0.1],[0.5,-0.45],[0.505,-0.75],[0.51,-0.3],[0.515,-0.9],[0.52,-0.55],[0.525,0.3],[0.53,-0.8],[0.535,-0.35],[0.54,-0.65],[0.545,-0.9],[0.55,-0.2],[0.555,-0.55],[0.56,-0.8],[0.565,0.4],[0.57,-0.4],[0.575,-0.9],[0.58,-0.6],[0.585,-0.3],[0.59,-0.85],[0.6,-0.5],[0.605,-0.75],[0.61,-0.35],[0.615,-0.9],[0.62,-0.6],[0.63,-0.85],[0.635,-0.4],[0.64,-0.7],[0.65,-0.9],[0.655,-0.5],[0.66,-0.2],[0.665,-0.8],[0.67,-0.45],[0.68,-0.9],[0.685,-0.6],[0.69,0.0],[0.695,-0.35],[0.7,-0.85],[0.71,-0.55],[0.72,-0.9],[0.725,-0.3],[0.73,-0.7],[0.74,-0.85],[0.745,-0.45],[0.75,-0.6],[0.76,-0.9],[0.765,-0.35],[0.77,-0.7],[0.78,-0.85],[0.785,-0.5],[0.79,-0.9],[0.8,-0.6],[0.805,-0.8],[0.81,-0.95],[0.815,-0.55],[0.82,-0.75],[0.14,0.05],[0.17,0.15],[0.2,0.4],[0.23,0.65],[0.26,0.5],[0.29,0.85],[0.3,0.6],[0.32,0.3],[0.18,-0.1],[0.22,-0.5],[0.25,-0.55],[0.28,-0.3],[0.15,-0.7],[0.24,-0.3],[0.27,-0.95],[0.35,-0.6],[0.38,-0.5],[0.42,-0.2],[0.44,0.35],[0.38,0.6],[0.7,-0.15],[0.64,-0.25],[0.59,0.1],[0.77,-0.2]];
const luscDOCK2core = [[0.112,-0.8],[0.128,-0.35],[0.145,-0.6],[0.158,-0.85],[0.172,-0.55],[0.185,-0.85],[0.198,-0.3],[0.212,-0.9],[0.228,-0.45],[0.242,-0.9],[0.258,-0.6],[0.272,-0.25],[0.288,-0.8],[0.302,-0.4],[0.318,-0.6],[0.332,-0.75],[0.348,-0.5],[0.362,-0.9],[0.378,-0.7],[0.392,-0.4],[0.408,-0.85],[0.422,-0.6],[0.438,-0.9],[0.452,-0.35],[0.468,-0.65],[0.482,-0.9],[0.498,-0.6],[0.512,-0.75],[0.528,-0.45],[0.542,-0.85],[0.558,-0.65],[0.572,-0.75],[0.588,-0.5],[0.602,-0.9],[0.618,-0.75],[0.632,-0.55],[0.648,-0.75],[0.662,-0.9],[0.678,-0.6],[0.692,-0.75],[0.708,-0.9],[0.722,-0.55],[0.738,-0.65],[0.752,-0.8],[0.768,-0.55],[0.782,-0.7],[0.798,-0.85],[0.812,-0.45]];

// Panel d (DOCK4)
const luadDOCK4 = [[0.118,4.7],[0.132,4.86],[0.355,4.94],[0.351,3.92],[0.762,4.51],[0.201,3.1],[0.323,2.91],[0.343,2.62],[0.517,3.02],[0.491,2.72],[0.503,2.57],[0.454,2.48],[0.622,2.72],[0.076,2.5],[0.093,2.35],[0.421,2.18],[0.53,2.1],[0.641,1.95],[0.084,1.75],[0.149,1.95],[0.058,1.43],[0.066,1.02],[0.72,1.43],[0.672,1.55],[0.735,1.23],[0.048,0.11],[0.066,-0.26],[0.086,0.05],[0.088,-0.63],[0.132,-1.35],[0.142,-1.3],[0.321,-1.32],[0.788,-1.09],[0.812,-1.27],[0.8,-1.4],[0.592,-1.58],[0.421,-1.43],[0.385,-1.42],[0.722,-1.2],
[0.1,0.0],[0.11,-0.4],[0.12,0.6],[0.125,-0.75],[0.13,0.2],[0.135,-0.9],[0.14,1.3],[0.145,-0.2],[0.15,0.85],[0.155,-0.65],[0.16,1.6],[0.163,0.45],[0.166,-0.35],[0.17,1.1],[0.175,-0.95],[0.18,-0.55],[0.185,1.55],[0.19,0.3],[0.195,-0.2],[0.2,0.9],[0.205,-0.6],[0.21,-0.25],[0.215,1.0],[0.22,-0.7],[0.225,0.25],[0.23,-1.05],[0.235,0.5],[0.24,-0.4],[0.245,0.05],[0.25,1.85],[0.165,-0.65],[0.18,-0.2],[0.2,-0.25],[0.14,0.1],[0.12,-0.6],[0.23,0.75],
[0.252,-1.1],[0.255,0.65],[0.258,-0.3],[0.26,0.2],[0.263,-0.8],[0.266,1.25],[0.27,-0.5],[0.273,0.4],[0.276,-1.2],[0.28,1.0],[0.283,-0.15],[0.286,0.6],[0.29,-0.85],[0.293,1.2],[0.296,0.05],[0.3,-0.55],[0.303,1.45],[0.306,-1.0],[0.31,0.3],[0.313,-0.3],[0.316,0.9],[0.32,-0.7],[0.323,-0.05],[0.326,0.55],[0.33,-1.15],[0.333,1.35],[0.336,-0.45],[0.34,0.15],[0.343,-0.85],[0.346,0.8],[0.35,1.2],[0.353,-0.25],[0.356,0.45],[0.36,-1.05],[0.363,-0.55],[0.366,0.95],[0.37,0.0],[0.373,-0.75],[0.376,1.8],[0.38,0.35],[0.383,-1.3],[0.386,-0.35],[0.39,0.7],[0.393,-0.9],[0.396,1.05],[0.4,0.1],[0.403,-0.6],[0.406,0.5],[0.41,-1.2],[0.413,1.5],[0.416,-0.2],[0.42,0.85],[0.423,-0.75],[0.426,0.25],[0.43,-1.0],[0.433,1.15],[0.436,-0.45],[0.44,0.55],[0.443,-0.1],[0.446,1.85],[0.45,-0.85],[0.453,0.35],[0.456,-1.3],[0.46,0.95],[0.463,-0.5],[0.466,0.1],[0.47,1.35],[0.473,-0.7],[0.476,0.5],[0.48,-1.1],[0.483,-0.25],[0.486,0.8],[0.49,-0.6],[0.493,1.2],[0.496,-0.95],[0.5,0.2],[0.503,-0.4],[0.506,0.65],[0.51,-1.25],[0.513,-0.75],[0.516,1.0],[0.52,-0.15],[0.523,0.4],[0.526,-0.9],[0.53,0.75],[0.533,-0.5],[0.536,1.35],[0.54,-1.15],[0.543,0.0],[0.546,-0.65],[0.55,0.55],[0.553,-0.3],[0.556,-1.05],[0.56,0.9],[0.563,-0.7],[0.566,0.15],[0.57,-1.35],[0.573,-0.45],[0.576,0.6],[0.58,-0.9],[0.583,-0.2],[0.586,1.0],[0.59,-1.2],[0.593,0.3],[0.596,-0.6],[0.6,-1.0],[0.603,0.7],[0.606,-0.35],[0.61,-1.25],[0.613,0.1],[0.616,-0.75],[0.62,1.15],[0.623,-0.5],[0.626,-1.05],[0.63,0.45],[0.633,-0.25],[0.636,-0.9],[0.64,0.85],[0.643,-0.6],[0.646,-1.2],[0.65,0.2],[0.653,-0.4],[0.656,-0.8],[0.66,0.55],[0.663,-1.1],[0.666,-0.2],[0.67,0.35],[0.673,-0.65],[0.676,-1.3],[0.68,0.5],[0.683,-0.35],[0.686,-0.9],[0.69,0.1],[0.695,-0.55],[0.7,-1.15],[0.705,-0.2],[0.71,-0.75],[0.715,0.05],[0.72,-0.95],[0.725,-0.4],[0.73,0.0],[0.735,-1.2],[0.74,-0.6],[0.745,0.1],[0.75,-0.3],[0.76,0.05],[0.34,-0.2],[0.38,-0.5],[0.42,-0.4],[0.46,-0.3],[0.5,-0.75],[0.54,-0.5],[0.58,-0.55],[0.62,-0.8],[0.66,-0.6],[0.44,-0.8],[0.48,0.05],[0.52,0.1],[0.56,-0.15],[0.6,0.15],[0.64,-0.15],[0.5,1.1],[0.52,0.55],[0.54,0.85],[0.48,0.7],[0.44,1.1],[0.58,0.4],[0.62,0.6],[0.67,-0.9],[0.7,-0.45],[0.4,-0.85],[0.36,0.55],[0.32,0.3],[0.3,-0.2],[0.28,-0.6]];
const luadDOCK4core = [[0.305,0.6],[0.315,-0.55],[0.325,1.0],[0.335,-0.8],[0.345,0.35],[0.355,-0.4],[0.365,-1.1],[0.375,0.75],[0.385,0.0],[0.395,-0.65],[0.405,0.3],[0.415,-1.0],[0.425,0.6],[0.435,-0.2],[0.445,-0.6],[0.455,0.8],[0.465,-1.0],[0.475,0.25],[0.485,-0.45],[0.495,0.45],[0.505,-0.95],[0.515,0.3],[0.525,-0.35],[0.535,0.55],[0.545,-0.85],[0.555,0.25],[0.565,-0.55],[0.575,-1.1],[0.585,0.15],[0.595,-0.3],[0.605,-0.75],[0.615,0.35],[0.625,-0.6],[0.635,0.1],[0.645,-1.0],[0.655,-0.3],[0.665,0.2],[0.675,-0.45],[0.685,0.3],[0.695,-0.75],[0.705,0.5],[0.715,-0.5],[0.725,-1.0],[0.3,0.35],[0.27,0.9],[0.26,-0.7],[0.24,0.15],[0.22,0.6],[0.55,-1.4],[0.51,-1.45]];
const luscDOCK4 = [[0.043,9.92],[0.12,5.68],[0.215,4.84],[0.332,4.97],[0.336,3.68],[0.455,3.54],[0.624,6.31],[0.065,2.52],[0.367,2.86],[0.375,2.79],[0.416,2.68],[0.302,2.65],[0.728,2.65],[0.367,2.14],[0.273,1.89],[0.462,2.14],[0.462,1.7],[0.381,1.43],[0.57,2.02],[0.588,1.8],[0.826,1.43],[0.819,1.04],[0.741,1.34],[0.147,1.75],[0.198,1.75],[0.23,1.72],[0.238,1.39],[0.087,1.25],[0.075,0.91],[0.059,0.36],[0.052,-1.05],[0.059,-1.25],[0.13,-1.16],[0.874,-1.23],[0.822,-0.04],
[0.05,-0.3],[0.06,-0.6],[0.07,0.1],[0.08,-0.75],[0.085,-0.4],[0.09,0.55],[0.095,-0.9],[0.1,-0.15],[0.105,-0.6],[0.11,0.3],[0.115,-0.85],[0.12,-0.45],[0.125,0.6],[0.13,-0.7],[0.135,-0.2],[0.14,0.15],[0.145,-0.9],[0.15,0.5],[0.155,-0.5],[0.16,1.05],[0.165,-1.0],[0.17,0.0],[0.175,-0.6],[0.18,0.8],[0.185,-0.35],[0.19,-0.9],[0.195,0.4],[0.2,-0.55],[0.205,-1.1],[0.21,0.7],[0.215,-0.25],[0.22,-0.8],[0.225,0.3],[0.23,-1.2],[0.235,-0.4],[0.24,0.95],[0.245,-0.7],[0.25,0.05],[0.255,-1.05],[0.26,-0.3],[0.265,0.45],[0.27,-0.85],[0.275,-0.5],[0.28,-1.25],[0.285,0.2],[0.29,-0.65],[0.295,0.6],[0.3,-1.0],[0.305,-0.2],[0.31,0.85],[0.315,-0.75],[0.32,-1.3],[0.325,0.3],[0.33,-0.45],[0.335,-0.95],[0.34,0.65],[0.345,-0.15],[0.35,-1.2],[0.355,0.1],[0.36,-0.6],[0.365,0.75],[0.37,-1.05],[0.375,-0.35],[0.38,0.4],[0.385,-0.85],[0.39,-1.35],[0.395,0.05],[0.4,-0.55],[0.405,0.9],[0.41,-1.0],[0.415,-0.25],[0.42,0.5],[0.425,-0.75],[0.43,-1.25],[0.435,0.2],[0.44,-0.5],[0.445,0.75],[0.45,-1.1],[0.455,-0.3],[0.46,0.35],[0.465,-0.85],[0.47,-1.4],[0.475,0.05],[0.48,-0.6],[0.485,0.55],[0.49,-1.0],[0.495,-0.35],[0.5,0.95],[0.505,-0.8],[0.51,-1.3],[0.515,0.15],[0.52,-0.55],[0.525,0.6],[0.53,-1.1],[0.535,-0.2],[0.54,-0.75],[0.545,0.35],[0.55,-1.35],[0.555,-0.4],[0.56,0.1],[0.565,-0.9],[0.57,0.85],[0.575,-0.6],[0.58,-1.2],[0.585,0.25],[0.59,-0.35],[0.595,0.9],[0.6,-0.85],[0.605,-1.3],[0.61,0.0],[0.615,-0.5],[0.62,0.45],[0.625,-1.0],[0.63,-0.3],[0.635,0.65],[0.64,-0.8],[0.645,-1.25],[0.65,0.1],[0.655,-0.55],[0.66,0.4],[0.665,-1.05],[0.67,-0.25],[0.675,0.55],[0.68,-0.75],[0.685,-1.3],[0.69,0.2],[0.695,-0.45],[0.7,-0.95],[0.705,0.35],[0.71,-0.6],[0.715,-1.15],[0.72,0.05],[0.725,-0.4],[0.73,0.4],[0.735,-0.85],[0.74,-1.2],[0.745,-0.2],[0.75,0.5],[0.755,-0.7],[0.76,-1.0],[0.765,0.15],[0.77,-0.45],[0.775,0.3],[0.78,-0.9],[0.785,-1.3],[0.79,-0.1],[0.795,0.25],[0.8,-0.65],[0.805,-1.1],[0.81,0.1],[0.815,-0.5],[0.82,-1.2],[0.825,-0.85],[0.83,0.35],[0.835,-0.3],[0.84,-1.0],[0.845,0.7],[0.85,-0.6],[0.855,-1.1],[0.86,-0.35],[0.865,0.05],[0.87,-0.8],[0.3,-0.45],[0.35,-0.8],[0.4,-0.2],[0.45,-0.7],[0.5,-0.5],[0.55,-0.9],[0.6,-0.6],[0.65,-0.85],[0.7,-0.55],[0.38,-1.1],[0.42,-0.9],[0.48,-1.15],[0.52,-0.95],[0.58,-0.7],[0.62,-1.15],[0.68,-1.0],[0.46,-0.1],[0.54,0.2],[0.44,0.3],[0.36,0.3],[0.62,-0.15],[0.72,-0.7],[0.78,-0.35],[0.82,-0.05],[0.25,-0.6],[0.2,-0.95],[0.15,-0.2]];
const luscDOCK4core = [[0.205,-0.35],[0.218,-0.95],[0.232,-0.15],[0.245,-1.05],[0.258,-0.5],[0.272,-0.2],[0.285,-0.95],[0.298,-0.4],[0.312,-1.15],[0.325,-0.6],[0.338,-0.25],[0.352,-0.95],[0.365,-0.45],[0.378,-1.25],[0.392,-0.7],[0.405,-0.3],[0.418,-1.15],[0.432,-0.6],[0.445,-0.95],[0.458,-0.45],[0.472,-1.2],[0.485,-0.8],[0.498,-0.15],[0.512,-0.95],[0.525,-0.4],[0.538,-1.25],[0.552,-0.7],[0.565,-0.2],[0.578,-1.0],[0.592,-0.6],[0.605,-0.9],[0.618,-0.35],[0.632,-1.2],[0.645,-0.65],[0.658,-0.95],[0.672,-0.4],[0.685,-0.9],[0.698,-0.25],[0.712,-0.95],[0.725,-0.6],[0.738,-0.35],[0.752,-1.15],[0.765,-0.6],[0.778,-0.15],[0.792,-0.8],[0.805,-0.4],[0.818,-0.75],[0.832,-1.1],[0.845,-0.2],[0.858,-0.75]];

// Regression line end points
const fitLuadABR = [[0.246,1.06],[0.897,-1.13]];
const fitLuscABR = [[0.324,0.53],[0.938,-0.57]];
const fitLuadPREX1 = [[0.068,0.47],[0.745,-0.49]];
const fitLuscPREX1 = [[0.075,0.03],[0.81,-0.68]];
const fitLuadDOCK2 = [[0.069,0.52],[0.8,-0.85]];
const fitLuscDOCK2 = [[0.076,-0.02],[0.832,-0.64]];
const fitLuadDOCK4 = [[0.046,0.64],[0.815,-0.41]];
const fitLuscDOCK4 = [[0.043,0.5],[0.878,-0.61]];

// Correlation annotations
const statsLuadABR = ["Spearman: -0.38", "(P = 5.45E-17)", "Pearson: -0.41", "(P = 6.91E-20)"];
const statsLuscABR = ["Spearman: -0.31", "(P = 1.02E-9)", "Pearson: -0.28", "(P = 7.31E-8)"];
const statsLuadPREX1 = ["Spearman: -0.28", "(P = 6.43E-10)", "Pearson: -0.20", "(P = 1.786E-5)"];
const statsLuscPREX1 = ["Spearman: -0.15", "(P = 4.086E-3)", "Pearson: -0.16", "(P = 2.689E-3)"];
const statsLuadDOCK2 = ["Spearman: -0.34", "(P = 9.46E-14)", "Pearson: -0.29", "(P = 5.12E-10)"];
const statsLuscDOCK2 = ["Spearman: -0.17", "(P = 8.704E-4)", "Pearson: -0.21", "(P = 4.785E-5)"];
const statsLuadDOCK4 = ["Spearman: -0.22", "(P = 1.602E-6)", "Pearson: -0.22", "(P = 1.638E-6)"];
const statsLuscDOCK4 = ["Spearman: -0.20", "(P = 1.544E-4)", "Pearson: -0.22", "(P = 1.609E-5)"];

// Ticks and tick labels
const xTicksA_L = [0.2, 0.4, 0.6, 0.8], xLabelsA_L = ["0.2", "0.4", "0.6", "0.8"];
const xTicksA_R = [0.3, 0.5, 0.7, 0.9], xLabelsA_R = ["0.3", "0.5", "0.7", "0.9"];
const xTicks08 = [0, 0.2, 0.4, 0.6, 0.8];
const xLabelsZeroDec = ["0.0", "0.2", "0.4", "0.6", "0.8"];
const xLabelsZero = ["0", "0.2", "0.4", "0.6", "0.8"];
const yTicksA_L = [6, 4, 2, 0, -2], yLabelsA_L = ["6", "4", "2", "0", "-2"];
const yTicksA_R = [3, 2, 1, 0, -1, -2], yLabelsA_R = ["3", "2", "1", "0", "-1", "-2"];
const yTicksB_L = [10, 8, 6, 4, 2, 0, -2], yLabelsB_L = ["10", "8", "6", "4", "2", "0", "-2"];
const yTicksB_R = [5, 4, 3, 2, 1, 0, -1], yLabelsB_R = ["5", "4", "3", "2", "1", "0", "-1"];
const yTicksC_L = [6, 4, 2, 0, -2], yLabelsC_L = ["6", "4", "2", "0", "-2"];
const yTicksC_R = [6, 4, 2, 0], yLabelsC_R = ["6", "4", "2", "0"];
const yTicksD_L = [4, 2, 0, -2], yLabelsD_L = ["4", "2", "0", "-2"];
const yTicksD_R = [10, 8, 6, 4, 2, 0, -2], yLabelsD_R = ["10", "6", "4", "6", "2", "0", "-2"];

// ---------------- LAYOUT ----------------
const FONT = "'Liberation Sans', Arial, Helvetica, sans-serif";
const RED = "#d8262c";
const panels = [
  {row:0, col:0, top:0, h:340, fl:112.7, fr:370.7, ft:31.7, fb:288.3, xd:[0.1777,0.9647], yd:[-2.841,6.419],
   pts:luadABR.concat(luadABRcore), fit:fitLuadABR, stats:statsLuadABR, xt:xTicksA_L, xl:xLabelsA_L, yt:yTicksA_L, yl:yLabelsA_L, adx:10.3, ady:18.3, letterPos:[20,21.7]},
  {row:0, col:1, top:0, h:340, fl:536.7, fr:798.3, ft:29.3, fb:289.3, xd:[0.257,1.0046], yd:[-2.154,3.116],
   pts:luscABR.concat(luscABRcore), fit:fitLuscABR, stats:statsLuscABR, xt:xTicksA_R, xl:xLabelsA_R, yt:yTicksA_R, yl:yLabelsA_R, adx:13.3, ady:20},
  {row:1, col:0, top:340, h:360, fl:112.7, fr:370.7, ft:390, fb:646.7, xd:[-0.0073,0.8054], yd:[-2.54,10.419],
   pts:luadPREX1.concat(luadPREX1core), fit:fitLuadPREX1, stats:statsLuadPREX1, xt:xTicks08, xl:xLabelsZeroDec, yt:yTicksB_L, yl:yLabelsB_L, adx:10.3, ady:18.3, letterPos:[20.7,381.7]},
  {row:1, col:1, top:340, h:360, fl:536.7, fr:798, ft:389.3, fb:646.7, xd:[-0.0055,0.8967], yd:[-1.84,5.62],
   pts:luscPREX1.concat(luscPREX1core), fit:fitLuscPREX1, stats:statsLuscPREX1, xt:xTicks08, xl:xLabelsZero, yt:yTicksB_R, yl:yLabelsB_R, adx:11.6, ady:17.4},
  {row:2, col:0, top:700, h:360, fl:112.7, fr:370.7, ft:748.3, fb:1005, xd:[-0.0079,0.877], yd:[-2.219,7.158],
   pts:luadDOCK2.concat(luadDOCK2core), fit:fitLuadDOCK2, stats:statsLuadDOCK2, xt:xTicks08, xl:xLabelsZeroDec, yt:yTicksC_L, yl:yLabelsC_L, adx:10.3, ady:18.4, letterPos:[20.7,724]},
  {row:2, col:1, top:700, h:360, fl:536.7, fr:798, ft:747.7, fb:1005, xd:[-0.0046,0.929], yd:[-1.744,7.744],
   pts:luscDOCK2.concat(luscDOCK2core), fit:fitLuscDOCK2, stats:statsLuscDOCK2, xt:xTicks08, xl:xLabelsZero, yt:yTicksC_R, yl:yLabelsC_R, adx:11.6, ady:17.3},
  {row:3, col:0, top:1060, h:355, fl:112.7, fr:370.7, ft:1105, fb:1363.3, xd:[-0.0263,0.9047], yd:[-2.254,5.665],
   pts:luadDOCK4.concat(luadDOCK4core), fit:fitLuadDOCK4, stats:statsLuadDOCK4, xt:xTicks08, xl:xLabelsZeroDec, yt:yTicksD_L, yl:yLabelsD_L, adx:10.6, ady:17.7, letterPos:[20.7,1082.7]},
  {row:3, col:1, top:1060, h:355, fl:536.7, fr:798, ft:1106.7, fb:1363.3, xd:[-0.0453,0.9744], yd:[-2.626,11.22],
   pts:luscDOCK4.concat(luscDOCK4core), fit:fitLuscDOCK4, stats:statsLuscDOCK4, xt:xTicks08, xl:xLabelsZero, yt:yTicksD_R, yl:yLabelsD_R, adx:11.6, ady:16.6}
];

const fig = document.getElementById("fig");
const BOLD = 16.7;

for (const p of panels) {
  const left = p.col * 400;
  const W = 400;
  const gene = genes[p.row];
  const mL = p.fl - left, mR = left + W - p.fr, mT = p.ft - p.top, mB = p.top + p.h - p.fb;
  const boldText = {fontSize: BOLD, fontWeight: "bold", fill: "black"};
  const marks = [
    Plot.axisX({ticks: p.xt, tickFormat: d => p.xl[p.xt.indexOf(d)], tickSize: 5, tickPadding: 5, strokeWidth: 1.6,
                fontSize: 16.7, fontWeight: "bold", label: null}),
    Plot.axisY({ticks: p.yt, tickFormat: d => p.yl[p.yt.indexOf(d)], tickSize: 4.5, tickPadding: 1.5, strokeWidth: 1.6,
                fontSize: 16.7, fontWeight: "bold", label: null}),
    Plot.dot(p.pts, {x: d => d[0], y: d => d[1], r: 2.3, fill: "black", stroke: "none"}),
    Plot.line(p.fit, {x: d => d[0], y: d => d[1], stroke: RED, strokeWidth: 2.3}),
    Plot.frame({stroke: "black", strokeWidth: 2}),
    Plot.text([titles[p.col]], {frameAnchor: "top", dy: -21, text: d => d, lineAnchor: "middle", ...boldText}),
    Plot.text([`${gene}: Methylation`], {frameAnchor: "bottom", dy: 39.5, text: d => d, lineAnchor: "middle", ...boldText}),
    Plot.text([`${gene}: mRNA Expression`], {frameAnchor: "left", dx: -63, rotate: -90, text: d => d, lineAnchor: "middle", textAnchor: "middle", ...boldText}),
    Plot.text(["z-Scores"], {frameAnchor: "left", dx: -42, rotate: -90, text: d => d, lineAnchor: "middle", textAnchor: "middle", ...boldText}),
    ...p.stats.map((s, i) => Plot.text([s], {frameAnchor: "top-left", dx: p.adx, dy: p.ady + i * 17.6, text: d => d,
        textAnchor: "start", lineAnchor: "middle", fontSize: 14.5, fill: "black"}))
  ];
  if (p.letterPos) {
    marks.push(Plot.text([panelLetters[p.row]], {frameAnchor: "top-left", dx: p.letterPos[0] - p.fl, dy: p.letterPos[1] - p.ft,
      text: d => d, textAnchor: "middle", lineAnchor: "middle", fontSize: 20, fontWeight: "bold",
      fontFamily: "'Liberation Serif', 'Times New Roman', serif", fill: "black"}));
  }
  const svg = Plot.plot({
    width: W, height: p.h,
    marginLeft: mL, marginRight: mR, marginTop: mT, marginBottom: mB,
    x: {domain: p.xd, nice: false},
    y: {domain: p.yd, nice: false},
    style: {fontFamily: FONT, background: "white", overflow: "visible"},
    marks
  });
  svg.style.left = left + "px";
  svg.style.top = p.top + "px";
  // italic "P" inside the p-value lines
  d3.select(svg).selectAll("text").each(function() {
    const t = this.textContent;
    if (t.startsWith("(P = ")) {
      const sel = d3.select(this);
      sel.text(null);
      sel.append("tspan").text("(");
      sel.append("tspan").attr("font-style", "italic").text("P");
      sel.append("tspan").text(t.slice(2));
    }
  });
  fig.appendChild(svg);
}
</script>
</body>
</html>
